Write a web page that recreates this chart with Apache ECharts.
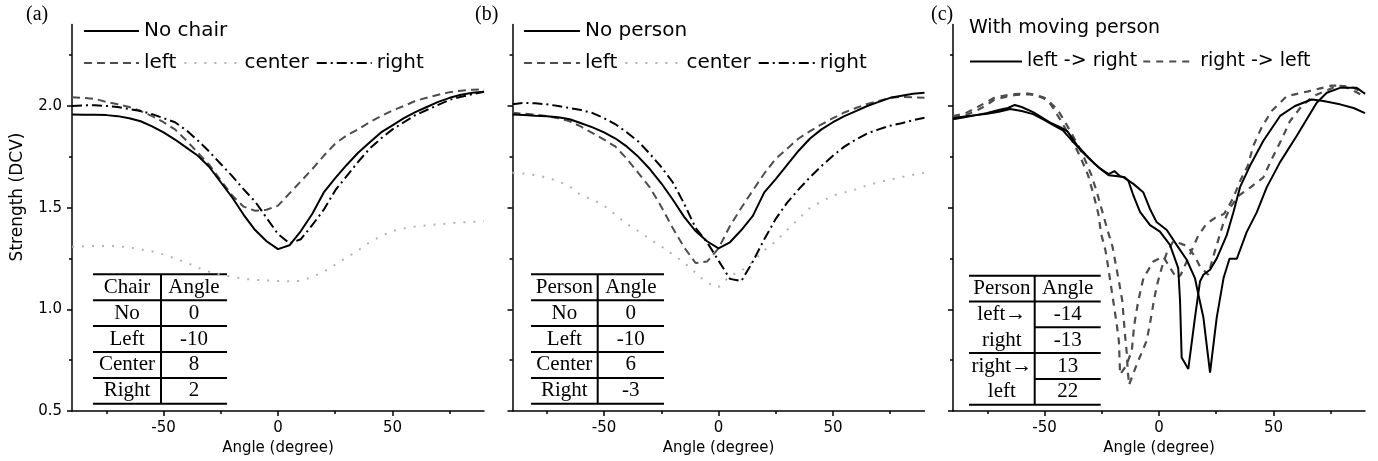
<!DOCTYPE html>
<html>
<head>
<meta charset="utf-8">
<style>
  html, body { margin: 0; padding: 0; background: #fff; }
  #main { width: 1378px; height: 461px; }
</style>
<script src="https://cdn.jsdelivr.net/npm/echarts@6/dist/echarts.min.js"></script>
</head>
<body>
<div id="main"></div>
<script>
// 角度 (a)(b) 共用
var angles = [-90,-85,-80,-75,-70,-65,-60,-55,-50,-45,-40,-35,-30,-25,-20,-15,-10,-5,0,5,10,15,20,25,30,35,40,45,50,55,60,65,70,75,80,85,90];

// (a) chair
var aNo     = [1.958,1.957,1.957,1.955,1.95,1.94,1.925,1.90,1.87,1.835,1.795,1.755,1.70,1.625,1.55,1.465,1.39,1.335,1.296,1.315,1.385,1.47,1.575,1.645,1.71,1.77,1.82,1.87,1.905,1.94,1.97,1.995,2.02,2.04,2.055,2.065,2.07];
var aLeft   = [2.043,2.04,2.035,2.02,2.008,1.995,1.975,1.95,1.92,1.885,1.83,1.77,1.71,1.635,1.56,1.505,1.485,1.49,1.51,1.57,1.63,1.69,1.755,1.815,1.855,1.885,1.92,1.95,1.978,2.0,2.025,2.04,2.055,2.068,2.075,2.08,2.082];
var aCenter = [1.308,1.31,1.312,1.312,1.31,1.305,1.295,1.285,1.27,1.25,1.23,1.205,1.185,1.17,1.16,1.15,1.145,1.142,1.14,1.138,1.14,1.16,1.185,1.22,1.255,1.29,1.33,1.36,1.385,1.398,1.407,1.413,1.418,1.423,1.428,1.43,1.433];
var aRight  = [2.0,2.003,2.003,2.0,1.995,1.985,1.975,1.96,1.94,1.92,1.88,1.83,1.775,1.715,1.655,1.59,1.53,1.45,1.37,1.325,1.345,1.415,1.49,1.585,1.655,1.725,1.79,1.84,1.885,1.92,1.955,1.98,2.005,2.03,2.045,2.058,2.07];

// (b) person
var bNo     = [1.958,1.955,1.952,1.95,1.945,1.935,1.915,1.895,1.87,1.84,1.80,1.75,1.69,1.62,1.54,1.455,1.385,1.335,1.30,1.33,1.39,1.46,1.575,1.64,1.71,1.78,1.84,1.885,1.92,1.95,1.975,2.0,2.02,2.04,2.05,2.06,2.065];
var bLeft   = [1.967,1.962,1.957,1.95,1.94,1.925,1.898,1.867,1.835,1.80,1.74,1.67,1.60,1.505,1.40,1.305,1.228,1.235,1.30,1.41,1.50,1.585,1.668,1.74,1.79,1.84,1.876,1.91,1.94,1.968,1.99,2.01,2.025,2.04,2.045,2.043,2.04];
var bCenter = [1.672,1.668,1.66,1.648,1.63,1.605,1.56,1.54,1.51,1.465,1.42,1.385,1.345,1.31,1.27,1.23,1.18,1.13,1.11,1.165,1.19,1.235,1.29,1.335,1.39,1.445,1.50,1.53,1.56,1.575,1.59,1.61,1.625,1.638,1.65,1.662,1.672];
var bRight  = [2.008,2.015,2.013,2.008,2.0,1.99,1.98,1.965,1.94,1.91,1.87,1.825,1.765,1.70,1.625,1.52,1.40,1.33,1.24,1.15,1.14,1.235,1.345,1.445,1.525,1.59,1.65,1.705,1.755,1.80,1.835,1.865,1.885,1.903,1.915,1.93,1.942];

// (c) moving person: [angle, strength]
var cSolid1 = [[-90,1.94],[-85,1.948],[-80,1.955],[-75,1.965],[-70,1.98],[-66,1.99],[-63,2.005],[-60,1.995],[-55,1.97],[-50,1.935],[-47,1.915],[-43,1.895],[-40,1.875],[-36,1.81],[-32,1.76],[-28,1.715],[-25,1.685],[-22,1.66],[-18,1.655],[-15,1.65],[-13.4,1.633],[-11.2,1.56],[-8.3,1.479],[-3.9,1.414],[0.4,1.382],[4.8,1.317],[8.4,1.203],[9.2,1.04],[9.9,0.764],[12.8,0.707],[15.7,0.958],[17.9,1.137],[19.4,1.17],[22.3,1.195],[25.3,1.252],[29.6,1.365],[32.5,1.478],[35.4,1.601],[39.8,1.707],[45.6,1.829],[52.9,1.951],[59.4,2.0],[66.7,2.032],[71.8,2.024],[79.1,2.008],[85,1.99],[90,1.965]];
var cSolid2 = [[-90,1.935],[-85,1.945],[-80,1.955],[-75,1.962],[-70,1.972],[-65,1.985],[-60,1.975],[-55,1.96],[-50,1.93],[-46,1.905],[-42,1.88],[-38,1.83],[-34,1.78],[-30,1.735],[-26,1.695],[-22,1.665],[-19.5,1.68],[-17,1.655],[-15.6,1.65],[-11.2,1.617],[-6.9,1.576],[-4,1.495],[-1.1,1.43],[3.4,1.39],[7.7,1.317],[12.1,1.244],[15.7,1.154],[17.2,1.073],[19.4,0.96],[22.3,0.689],[25.2,0.958],[28.2,1.154],[30.8,1.249],[34,1.249],[38.3,1.38],[42.7,1.477],[47.1,1.601],[52.9,1.724],[60.2,1.854],[68.9,2.016],[73.3,2.065],[79.1,2.089],[86.4,2.089],[90,2.06]];
var cDash1  = [[-90,1.94],[-85,1.952],[-80,1.975],[-76,2.0],[-72,2.03],[-67,2.045],[-62,2.055],[-57,2.058],[-53,2.05],[-50,2.035],[-47.5,2.01],[-46,1.985],[-43,1.93],[-40,1.87],[-37,1.81],[-34,1.74],[-31,1.66],[-28.5,1.56],[-26.5,1.47],[-25.3,1.372],[-23.4,1.291],[-22.1,1.2],[-19.7,1.02],[-18.5,0.93],[-17.5,0.84],[-17,0.68],[-14.5,0.72],[-11.9,0.795],[-10.8,0.925],[-9.1,1.04],[-6.8,1.154],[-2.5,1.235],[1.9,1.259],[4,1.22],[7.7,1.153],[9.5,1.17],[13.5,1.27],[17.2,1.364],[20.8,1.421],[24.5,1.45],[28.5,1.47],[32.2,1.543],[35.8,1.64],[38.8,1.706],[41.2,1.804],[44.8,1.894],[49.2,1.975],[55.8,2.048],[65.2,2.072],[70,2.085],[75.4,2.1],[80,2.1],[85,2.075],[90,2.045]];
var cDash2  = [[-90,1.95],[-85,1.962],[-80,1.99],[-76,2.015],[-72,2.04],[-68,2.05],[-63,2.058],[-58,2.062],[-54,2.055],[-50,2.04],[-47,2.01],[-44.5,1.985],[-41.5,1.93],[-38.5,1.87],[-35.5,1.81],[-32.5,1.74],[-29.5,1.66],[-27,1.57],[-24.7,1.478],[-22.5,1.39],[-20.3,1.308],[-19,1.227],[-17.5,1.137],[-16,1.04],[-15.4,0.95],[-14.8,0.869],[-14.1,0.788],[-13.7,0.707],[-13.1,0.629],[-9.7,0.73],[-5.4,0.846],[-4,0.927],[-2.5,1.025],[-1,1.115],[1.2,1.205],[3.4,1.278],[6.2,1.335],[9,1.325],[12.4,1.311],[15.7,1.26],[17.9,1.21],[21.5,1.17],[24.5,1.29],[28,1.42],[31,1.5],[35,1.56],[40,1.6],[45.6,1.649],[49.2,1.738],[53.6,1.836],[57.2,1.925],[62.3,1.999],[67.4,2.048],[72,2.07],[78,2.1],[84,2.095],[90,2.06]];

// 刻度
var yMajor = [0.5, 1.0, 1.5, 2.0];
var yMinor = [0.75, 1.25, 1.75, 2.25];
var xMajor = [-50, 0, 50];
var xMinor = [-75, -25, 25, 75];

// 表格
var tableA = [['Chair','Angle'],['No','0'],['Left','-10'],['Center','8'],['Right','2']];
var tableB = [['Person','Angle'],['No','0'],['Left','-10'],['Center','6'],['Right','-3']];
var tableC = [['Person','Angle'],['left\u2192','-14'],['right','-13'],['right\u2192','13'],['left','22']];

var gridLefts = [72, 512.5, 953];
var sans = 'DejaVu Sans';
var serif = 'Liberation Serif';

function pairs(xs, ys) {
    return xs.map(function (x, i) { return [x, ys[i]]; });
}

var solid   = { color: '#000', width: 2, type: 'solid' };
var dashed  = { color: '#4d4d4d', width: 2, type: [8, 5] };
var dotted  = { color: '#b3b3b3', width: 2, type: [2, 8] };
var dashdot = { color: '#000', width: 2, type: [10, 4, 2, 4] };
var dashedC = { color: '#4d4d4d', width: 2.2, type: [7, 6] };

function line(name, g, data, st) {
    return {
        name: name, type: 'line', xAxisIndex: g * 2, yAxisIndex: g * 2,
        data: data, symbol: 'none', silent: true,
        lineStyle: { color: st.color, width: st.width, type: st.type },
        itemStyle: { color: st.color }
    };
}

var xAxes = [], yAxes = [], grids = [];
gridLefts.forEach(function (left, i) {
    grids.push({ left: left, top: 24.6, width: 412, height: 389.1 });
    xAxes.push({
        gridIndex: i, type: 'value', min: -90, max: 90, position: 'bottom',
        name: 'Angle (degree)', nameLocation: 'middle', nameGap: 28,
        nameTextStyle: { fontFamily: sans, fontSize: 15, color: '#000' },
        axisLine: { onZero: false, lineStyle: { color: '#000', width: 1.5 } },
        axisTick: { length: 5, customValues: xMajor, lineStyle: { color: '#000', width: 1.5 } },
        axisLabel: { customValues: xMajor, margin: 10, fontFamily: sans, fontSize: 15, color: '#000' },
        splitLine: { show: false }
    });
    xAxes.push({
        gridIndex: i, type: 'value', min: -90, max: 90, position: 'bottom',
        axisLine: { show: false, onZero: false },
        axisTick: { length: 3, customValues: xMinor, lineStyle: { color: '#000', width: 1.5 } },
        axisLabel: { show: false },
        splitLine: { show: false }
    });
    yAxes.push({
        gridIndex: i, type: 'value', min: 0.5, max: 2.4, position: 'left',
        axisLine: { show: true, onZero: false, lineStyle: { color: '#000', width: 1.5 } },
        axisTick: { show: true, length: 5, customValues: yMajor, lineStyle: { color: '#000', width: 1.5 } },
        axisLabel: {
            show: i === 0, customValues: yMajor, margin: 10,
            formatter: function (v) { return v.toFixed(1); },
            fontFamily: sans, fontSize: 15, color: '#000'
        },
        splitLine: { show: false }
    });
    yAxes.push({
        gridIndex: i, type: 'value', min: 0.5, max: 2.4, position: 'left',
        axisLine: { show: false, onZero: false },
        axisTick: { show: true, length: 3, customValues: yMinor, lineStyle: { color: '#000', width: 1.5 } },
        axisLabel: { show: false },
        splitLine: { show: false }
    });
});

// 表格的线和文字
function table(rows, x0, x1, x2, y0, rowH, halfLines) {
    var els = [];
    var lw = 2;
    for (var i = 0; i <= rows.length; i++) {
        var xs = halfLines.indexOf(i) >= 0 ? x1 : x0;
        els.push({ type: 'line', silent: true,
            shape: { x1: xs, y1: y0 + i * rowH, x2: x2, y2: y0 + i * rowH },
            style: { stroke: '#000', lineWidth: lw } });
    }
    els.push({ type: 'line', silent: true,
        shape: { x1: x1, y1: y0, x2: x1, y2: y0 + rows.length * rowH },
        style: { stroke: '#000', lineWidth: lw } });
    rows.forEach(function (r, k) {
        els.push({ type: 'text', silent: true, x: (x0 + x1) / 2, y: y0 + (k + 0.5) * rowH,
            style: { text: r[0], font: '21px "' + serif + '"', fill: '#000', align: 'center', verticalAlign: 'middle' } });
        els.push({ type: 'text', silent: true, x: (x1 + x2) / 2, y: y0 + (k + 0.5) * rowH,
            style: { text: r[1], font: '21px "' + serif + '"', fill: '#000', align: 'center', verticalAlign: 'middle' } });
    });
    return els;
}

var graphics = []
    .concat(table(tableA, 93, 161, 227, 274.3, 25.9, []))
    .concat(table(tableB, 531, 597.7, 664, 274.3, 25.9, []))
    .concat(table(tableC, 969, 1034.7, 1100.7, 275.7, 25.8, [2, 4]));
graphics.push({ type: 'text', silent: true, x: 18, y: 197, rotation: Math.PI / 2,
    style: { text: 'Strength (DCV)', font: '17px "' + sans + '"', fill: '#000', align: 'center', verticalAlign: 'middle' } });

var legendText = { fontFamily: sans, fontSize: 20, color: '#000' };
function legend(left, top, names, w, gap, text) {
    return { left: left, top: top, padding: 0, itemWidth: w, itemHeight: 14, itemGap: gap,
        selectedMode: false, data: names, textStyle: text || legendText,
        itemStyle: { opacity: 0 } };
}

var myChart = echarts.init(document.getElementById('main'));

var option = {
    animation: false,
    backgroundColor: '#fff',
    title: [
        { text: '(a)', left: 26, top: 5, padding: 0, textStyle: { fontFamily: serif, fontSize: 20, fontWeight: 'normal', color: '#000' } },
        { text: '(b)', left: 475, top: 5, padding: 0, textStyle: { fontFamily: serif, fontSize: 20, fontWeight: 'normal', color: '#000' } },
        { text: '(c)', left: 931, top: 5, padding: 0, textStyle: { fontFamily: serif, fontSize: 20, fontWeight: 'normal', color: '#000' } },
        { text: 'With moving person', left: 969, top: 19, padding: 0, textStyle: { fontFamily: sans, fontSize: 19, fontWeight: 'normal', color: '#000' } }
    ],
    legend: [
        legend(83, 21, ['No chair'], 55, 7),
        legend(83, 53, ['left', 'center', 'right'], 55, 7),
        legend(523, 21, ['No person'], 56, 7),
        legend(523, 53, ['left', 'center', 'right'], 56, 7),
        legend(969, 52, ['left -> right', 'right -> left'], 52, 5, { fontFamily: sans, fontSize: 19, color: '#000' })
    ],
    grid: grids,
    xAxis: xAxes,
    yAxis: yAxes,
    graphic: graphics,
    series: [
        line('center', 0, pairs(angles, aCenter), dotted),
        line('left', 0, pairs(angles, aLeft), dashed),
        line('right', 0, pairs(angles, aRight), dashdot),
        line('No chair', 0, pairs(angles, aNo), solid),

        line('center', 1, pairs(angles, bCenter), dotted),
        line('left', 1, pairs(angles, bLeft), dashed),
        line('right', 1, pairs(angles, bRight), dashdot),
        line('No person', 1, pairs(angles, bNo), solid),

        line('right -> left', 2, cDash1, dashedC),
        line('right -> left', 2, cDash2, dashedC),
        line('left -> right', 2, cSolid1, solid),
        line('left -> right', 2, cSolid2, solid)
    ]
};

myChart.setOption(option);
</script>
</body>
</html>
